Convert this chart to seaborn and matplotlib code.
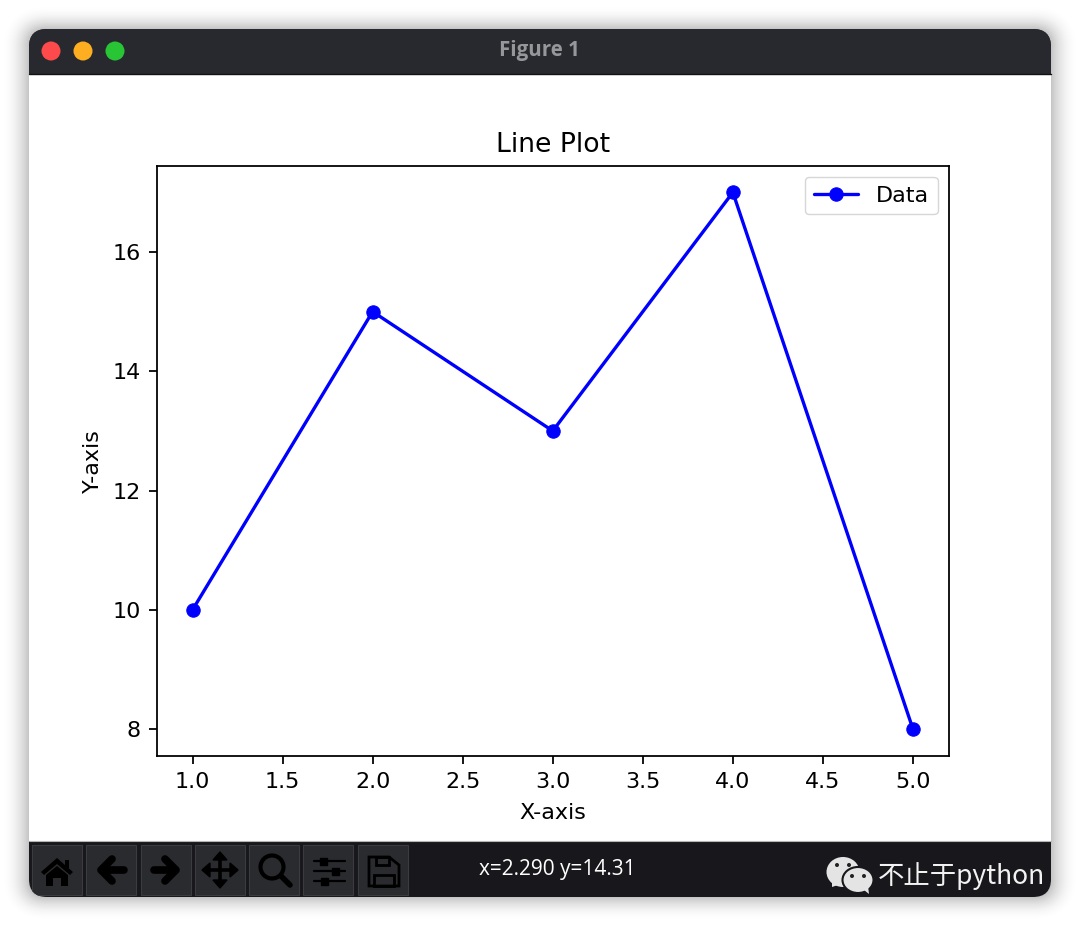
import numpy as np
import pandas as pd
import matplotlib
matplotlib.use('Agg')
import matplotlib.pyplot as plt
from matplotlib.patches import FancyBboxPatch, Circle, Rectangle, Polygon, Ellipse
import seaborn as sns

# chart values
x_vals = [1, 2, 3, 4, 5]
y_vals = [10, 15, 13, 17, 8]
series_name = 'Data'
title = 'Line Plot'
x_label = 'X-axis'
y_label = 'Y-axis'

sns.set_theme(style='ticks', rc={'axes.edgecolor': 'black', 'axes.linewidth': 1.28,
                                 'xtick.color': 'black', 'ytick.color': 'black',
                                 'text.color': 'black', 'axes.labelcolor': 'black',
                                 'xtick.major.size': 5.6, 'ytick.major.size': 5.6,
                                 'xtick.major.width': 1.28, 'ytick.major.width': 1.28})
plt.rcParams['font.family'] = ['DejaVu Sans']

fig = plt.figure(figsize=(10.8, 9.27), dpi=100, facecolor='white')

# window chrome drawn in pixel coordinates on a full figure axes
bg = fig.add_axes([0, 0, 1, 1], zorder=0)
bg.set_xlim(0, 1080)
bg.set_ylim(927, 0)
bg.axis('off')


def box(x0, y0, x1, y1, color, r=0, **kw):
    p = FancyBboxPatch((x0 + r, y0 + r), x1 - x0 - 2 * r, y1 - y0 - 2 * r,
                       boxstyle='round,pad=%g,rounding_size=%g' % (r, r),
                       fc=color, ec='none', **kw)
    bg.add_patch(p)
    return p


# soft shadow, opaque grey layers from the outside in
for grow in range(28, 0, -1):
    level = 1 - 0.24 * (1 - grow / 28) ** 2
    box(29 - grow, 29 - grow * 0.85, 1051 + grow, 897 + grow * 0.85, str(level), r=18 + grow)

# window body
body = box(29, 29, 1051, 897, '#18181c', r=18)
bg.add_patch(Rectangle((29, 74), 1022, 767, fc='white', ec='none'))
title_bar = Rectangle((29, 29), 1022, 45, fc='#28292e', ec='none')
bg.add_patch(title_bar)
title_bar.set_clip_path(body)
bg.plot([29, 1051], [74, 74], color='#111114', lw=1)
bg.plot([29, 1051], [841, 841], color='#b5b5b8', lw=0.8)

for cx, col in zip([51, 83, 115], ['#fe4a4a', '#fdae21', '#28c535']):
    bg.add_patch(Circle((cx, 51), 9.5, fc=col, ec='none'))
bg.text(539, 50.5, 'Figure 1', color='#96979b', fontsize=14.8, fontweight='bold',
        family='Open Sans', ha='center', va='center')

# toolbar buttons
for x0 in [32, 86, 141, 195, 249, 303, 358]:
    btn = Rectangle((x0, 844.5), 49.5, 50, fc='#2a2b2f', ec='#3b3c40', lw=0.8)
    bg.add_patch(btn)
    btn.set_clip_path(body)

ink = 'black'
# home
bg.add_patch(Polygon([[41, 872], [57, 858], [73, 872], [70, 875], [57, 864], [44, 875]], fc=ink, ec='none'))
bg.add_patch(Polygon([[46, 875], [57, 866], [68, 875], [68, 886], [61, 886], [61, 878], [53, 878], [53, 886], [46, 886]], fc=ink, ec='none'))
bg.add_patch(Rectangle((65, 860), 4, 8, fc=ink, ec='none'))
# back and forward
bg.plot([112, 101, 112], [859, 870, 881], color=ink, lw=5.5, solid_capstyle='round', solid_joinstyle='round')
bg.plot([102, 124], [870, 870], color=ink, lw=5.5, solid_capstyle='round')
bg.plot([165, 176, 165], [859, 870, 881], color=ink, lw=5.5, solid_capstyle='round', solid_joinstyle='round')
bg.plot([154, 175], [870, 870], color=ink, lw=5.5, solid_capstyle='round')
# pan
bg.plot([205, 236], [870, 870], color=ink, lw=2.6)
bg.plot([220, 220], [857, 884], color=ink, lw=2.6)
bg.add_patch(Polygon([[220, 852], [227, 860], [213, 860]], fc=ink, ec=ink))
bg.add_patch(Polygon([[220, 888], [227, 880], [213, 880]], fc=ink, ec=ink))
bg.add_patch(Polygon([[202, 870], [210, 863], [210, 877]], fc=ink, ec=ink))
bg.add_patch(Polygon([[238, 870], [230, 863], [230, 877]], fc=ink, ec=ink))
# zoom
bg.add_patch(Circle((272, 867), 11.5, fc='none', ec=ink, lw=3))
bg.plot([281, 290], [876, 885], color=ink, lw=4, solid_capstyle='round')
# sliders
for yy, xx in [(861, 323), (871, 335), (881, 324)]:
    bg.plot([314, 345], [yy, yy], color=ink, lw=1.6)
    bg.add_patch(Rectangle((xx - 3.5, yy - 3.5), 7, 7, fc=ink, ec=ink))
# save
bg.add_patch(Polygon([[369, 857], [389, 857], [399, 865], [399, 886], [369, 886]], fc='none', ec=ink, lw=2))
bg.add_patch(Rectangle((376, 857), 13, 8, fc='none', ec=ink, lw=2))
bg.add_patch(Rectangle((374, 875), 20, 11, fc='none', ec=ink, lw=2))

bg.text(557, 870, 'x=2.290 y=14.31', color='white', fontsize=15, fontweight='medium',
        family='Open Sans', ha='center', va='center')

# watermark
bg.add_patch(Ellipse((843, 872), 33, 30, fc='#e4e4e4', ec='none'))
bg.add_patch(Polygon([[832, 882], [832, 887], [841, 884]], fc='#e4e4e4', ec='none'))
bg.add_patch(Ellipse((858, 880), 31, 26, fc='#e4e4e4', ec='#18181c', lw=1.5))
bg.add_patch(Polygon([[864, 890], [869, 894], [868, 886]], fc='#e4e4e4', ec='none'))
for cx, cy in [(837, 865), (849, 865), (852, 876), (864, 876)]:
    bg.add_patch(Circle((cx, cy), 2, fc='#222222', ec='none'))
bg.text(878, 876.5, '不止于python', color='#f2f2f2', fontsize=19,
        family=['Noto Sans CJK SC', 'DejaVu Sans'], ha='left', va='center')

# the chart
df = pd.DataFrame({'x': x_vals, 'y': y_vals})
ax = fig.add_axes([156.5 / 1080, 1 - 756 / 927, (949 - 156.5) / 1080, (756 - 165.5) / 927], zorder=1)
sns.lineplot(data=df, x='x', y='y', ax=ax, color='blue', marker='o', markersize=9.6,
             markeredgecolor='blue', markeredgewidth=0.8, linewidth=2.4, label=series_name)
ax.set_title(title, fontsize=19.2, pad=9.5)
ax.set_xlabel(x_label, fontsize=16, labelpad=8.5)
ax.set_ylabel(y_label, fontsize=16, labelpad=7)
ax.tick_params(labelsize=16, pad=5.6)
ax.set_xticks(np.arange(1, 5.5, 0.5))
ax.legend(loc='upper right', fontsize=16, frameon=True, fancybox=True, framealpha=0.8,
          edgecolor='0.8')

fig.savefig('out.png', dpi=100, facecolor='white')
